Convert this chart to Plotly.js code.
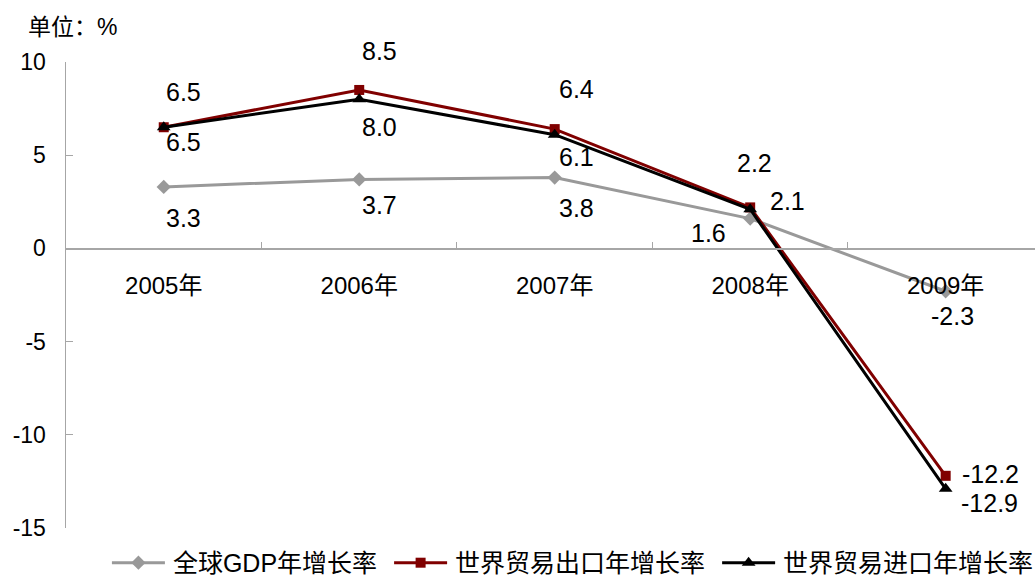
<!DOCTYPE html>
<html>
<head>
<meta charset="utf-8">
<script src="https://cdn.plot.ly/plotly-3.0.1.min.js"></script>
<style>html,body{margin:0;padding:0;background:#fff;}#chart{width:1035px;height:581px;}</style>
</head>
<body>
<div id="chart"></div>
<script>
const years = ['2005年','2006年','2007年','2008年','2009年'];
const gdpGrowth = [3.3, 3.7, 3.8, 1.6, -2.3];
const exportGrowth = [6.5, 8.5, 6.4, 2.2, -12.2];
const importGrowth = [6.5, 8.0, 6.1, 2.1, -12.9];
const seriesNames = ['全球GDP年增长率','世界贸易出口年增长率','世界贸易进口年增长率'];
const yTicks = [10, 5, 0, -5, -10, -15];

const FONT = '"Liberation Sans", Arial, "Noto Sans CJK SC", sans-serif';

// label offsets (pixels) per series / point
const gdpShift = [[20,-31],[20,-26],[22,-30],[-42,-14],[7,-25]];
const expShift = [[20,35],[20,39],[22,40],[4,44],[45,2]];
const impShift = [[20,-15],[20,-28],[22,-22],[37,8],[44,-14]];

const traces = [
  {x: years, y: gdpGrowth, name: seriesNames[0], type: 'scatter', mode: 'lines+markers',
   line: {color: '#999999', width: 3}, marker: {symbol: 'diamond', size: 11, color: '#999999'}},
  {x: years, y: exportGrowth, name: seriesNames[1], type: 'scatter', mode: 'lines+markers',
   line: {color: '#800000', width: 3}, marker: {symbol: 'square', size: 10, color: '#800000'}},
  {x: years, y: importGrowth, name: seriesNames[2], type: 'scatter', mode: 'lines+markers',
   line: {color: '#000000', width: 3}, marker: {symbol: 'triangle-up', size: 12, color: '#000000'}}
];

const annotations = [];
function addLabels(vals, shifts) {
  vals.forEach((v, i) => {
    annotations.push({x: years[i], y: v, xref: 'x', yref: 'y', text: v.toFixed(1),
      showarrow: false, xshift: shifts[i][0], yshift: shifts[i][1],
      font: {family: FONT, size: 25, color: '#000'}});
  });
}
addLabels(gdpGrowth, gdpShift);
addLabels(exportGrowth, expShift);
addLabels(importGrowth, impShift);

const layout = {
  width: 1035, height: 581,
  margin: {l: 66, r: 0, t: 62, b: 53, autoexpand: false},
  paper_bgcolor: '#fff', plot_bgcolor: '#fff',
  font: {family: FONT, size: 23, color: '#000'},
  title: {text: '单位：%', x: 28/1035, xref: 'container', xanchor: 'left',
          y: 1 - 27/581, yref: 'container', yanchor: 'middle',
          font: {family: FONT, size: 23, color: '#000'}},
  showlegend: true,
  legend: {orientation: 'h', x: 0.035, xanchor: 'left', y: -0.075, yanchor: 'middle',
           font: {family: FONT, size: 25, color: '#000'}, itemwidth: 63, tracegroupgap: 0,
           bgcolor: 'rgba(0,0,0,0)'},
  xaxis: {type: 'category', range: [-0.5, 4.457], anchor: 'free', position: 0.6,
          showline: true, linecolor: '#A6A6A6', linewidth: 1.5, showgrid: false, zeroline: false,
          ticks: 'inside', tickson: 'boundaries', ticklen: 6, tickcolor: '#A6A6A6', tickwidth: 1,
          ticklabelstandoff: 15, tickfont: {family: FONT, size: 24, color: '#000'}, fixedrange: true},
  yaxis: {range: [-15, 10], tickvals: yTicks, ticktext: yTicks.map(String),
          showline: true, linecolor: '#A6A6A6', linewidth: 1.5, showgrid: false, zeroline: false,
          ticks: 'inside', ticklen: 7, tickcolor: '#A6A6A6', tickwidth: 1,
          ticklabelstandoff: 14, tickfont: {family: FONT, size: 23, color: '#000'}, fixedrange: true},
  annotations: annotations
};

function fixLegend(gd) {
  // lengthen legend line symbols to match the reference (53px line, 8px gap to text)
  gd.querySelectorAll('g.legend g.traces').forEach(item => {
    const txt = item.querySelector('text.legendtext');
    if (!txt) return;
    const tx = parseFloat(txt.getAttribute('x')) || 73;
    const end = tx - 8, start = end - 53, mid = (start + end) / 2;
    item.querySelectorAll('g.legendlines path').forEach(p => p.setAttribute('d', `M${start},0h53`));
    item.querySelectorAll('g.legendpoints path').forEach(p => p.setAttribute('transform', `translate(${mid},0)`));
  });
}

Plotly.newPlot('chart', traces, layout, {displayModeBar: false, staticPlot: true}).then(gd => {
  fixLegend(gd);
  gd.on('plotly_afterplot', () => fixLegend(gd));
  setTimeout(() => fixLegend(gd), 50);
  setTimeout(() => fixLegend(gd), 300);
});
</script>
</body>
</html>
